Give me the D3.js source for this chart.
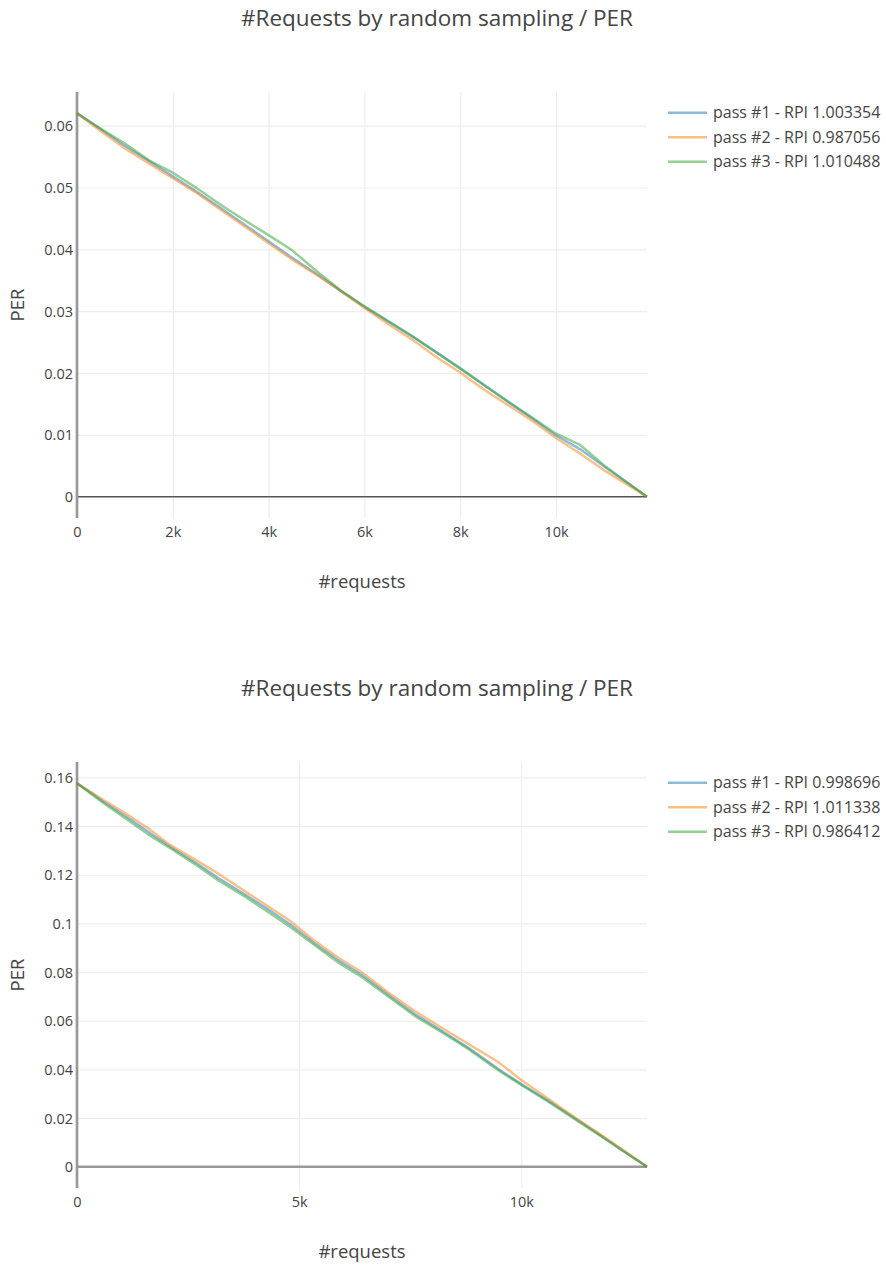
<!DOCTYPE html>
<html>
<head>
<meta charset="utf-8">
<script src="https://cdn.jsdelivr.net/npm/d3@7"></script>
<style>
  body { margin: 0; background: #fff; }
  text { font-family: "Open Sans", verdana, arial, sans-serif; fill: #444; }
</style>
</head>
<body>
<script>

// ---- chart 1 data ----
var x1 = [0, 500, 1000, 1500, 2000, 2500, 3000, 3500, 4000, 4500, 5000, 5500, 6000,
  6500, 7000, 7500, 8000, 8500, 9000, 9500, 10000, 10500, 11000, 11500, 11900];
var pass1a = [0.0620, 0.0594, 0.0567, 0.0543, 0.0518, 0.0493, 0.0467, 0.0440, 0.0413, 0.0386, 0.0360, 0.0333, 0.0307,
  0.0283, 0.0259, 0.0233, 0.0207, 0.0180, 0.0153, 0.0127, 0.0099, 0.0077, 0.0049, 0.0022, 0];
var pass2a = [0.0620, 0.0591, 0.0563, 0.0539, 0.0515, 0.0491, 0.0464, 0.0437, 0.0410, 0.0383, 0.0359, 0.0333, 0.0305,
  0.0279, 0.0254, 0.0226, 0.0201, 0.0173, 0.0148, 0.0123, 0.0095, 0.0070, 0.0043, 0.0019, 0];
var pass3a = [0.0620, 0.0595, 0.0571, 0.0544, 0.0524, 0.0499, 0.0472, 0.0447, 0.0423, 0.0398, 0.0365, 0.0334, 0.0308,
  0.0284, 0.0260, 0.0234, 0.0208, 0.0181, 0.0154, 0.0128, 0.0102, 0.0084, 0.0051, 0.0022, 0];
var names1 = ["pass #1 - RPI 1.003354", "pass #2 - RPI 0.987056", "pass #3 - RPI 1.010488"];
var xTicks1 = [0, 2000, 4000, 6000, 8000, 10000];
var yTicks1 = [0, 0.01, 0.02, 0.03, 0.04, 0.05, 0.06];

// ---- chart 2 data ----
var x2 = [0, 600, 1200, 1600, 2100, 2700, 3200, 3800, 4300, 4800, 5300, 5900, 6400,
  7000, 7600, 8200, 8800, 9500, 10000, 10600, 11200, 11800, 12300, 12830];
var pass1b = [0.1576, 0.1500, 0.1428, 0.1377, 0.1315, 0.1246, 0.1185, 0.1117, 0.1058, 0.0996, 0.0925, 0.0846, 0.0790,
  0.0708, 0.0628, 0.0560, 0.0490, 0.0400, 0.0340, 0.0272, 0.0200, 0.0127, 0.0065, 0];
var pass2b = [0.1576, 0.1507, 0.1440, 0.1391, 0.1322, 0.1258, 0.1202, 0.1130, 0.1071, 0.1010, 0.0935, 0.0857, 0.0801,
  0.0717, 0.0640, 0.0572, 0.0505, 0.0428, 0.0356, 0.0280, 0.0203, 0.0130, 0.0068, 0];
var pass3b = [0.1576, 0.1494, 0.1418, 0.1366, 0.1309, 0.1238, 0.1174, 0.1108, 0.1047, 0.0985, 0.0917, 0.0836, 0.0781,
  0.0700, 0.0620, 0.0554, 0.0485, 0.0394, 0.0336, 0.0268, 0.0196, 0.0124, 0.0063, 0];
var names2 = ["pass #1 - RPI 0.998696", "pass #2 - RPI 1.011338", "pass #3 - RPI 0.986412"];
var xTicks2 = [0, 5000, 10000];
var yTicks2 = [0, 0.02, 0.04, 0.06, 0.08, 0.1, 0.12, 0.14, 0.16];

var colors = ["#1f77b4", "#ff7f0e", "#2ca02c"];
var title = "#Requests by random sampling / PER";

var W = 886, H = 1267;
// plot area (window.top is reserved, so prefixed names)
var pLeft = 77, pRight = 647, pTop = 92, pBottom = 518;

var svg = d3.select("body").append("svg")
  .attr("width", W)
  .attr("height", H);

drawChart(0, x1, [pass1a, pass2a, pass3a], names1, xTicks1, yTicks1, { zeroColor: "#555", zeroWidth: 1.6 });
drawChart(670, x2, [pass1b, pass2b, pass3b], names2, xTicks2, yTicks2, { zeroColor: "#999", zeroWidth: 2.6 });

function drawChart(offY, xs, series, names, xTicks, yTicks, opt) {
  var g = svg.append("g").attr("transform", "translate(0," + offY + ")");

  var ymax = d3.max(series, function (s) { return d3.max(s); });
  var pad = ymax / 18;   // plotly-like 5% autorange padding

  var x = d3.scaleLinear().domain([0, xs[xs.length - 1]]).range([pLeft, pRight]);
  var y = d3.scaleLinear().domain([-pad, ymax + pad]).range([pBottom, pTop]);

  // title
  g.append("text")
    .attr("x", 437)
    .attr("y", 18)
    .attr("dy", "0.35em")
    .attr("text-anchor", "middle")
    .style("font-size", "22.5px")
    .text(title);

  // grid
  var xGrid = d3.axisBottom(x).tickValues(xTicks.filter(function (d) { return d !== 0; }))
    .tickSize(-(pBottom - pTop)).tickFormat("");
  g.append("g").attr("transform", "translate(0," + pBottom + ")").call(xGrid)
    .call(function (a) { a.select(".domain").remove(); })
    .selectAll("line").attr("stroke", "#eee").attr("stroke-width", 1.2);

  var yGrid = d3.axisLeft(y).tickValues(yTicks.filter(function (d) { return d !== 0; }))
    .tickSize(-(pRight - pLeft)).tickFormat("");
  g.append("g").attr("transform", "translate(" + pLeft + ",0)").call(yGrid)
    .call(function (a) { a.select(".domain").remove(); })
    .selectAll("line").attr("stroke", "#eee").attr("stroke-width", 1.2);

  // tick labels
  var xAxis = d3.axisBottom(x).tickValues(xTicks).tickSize(0).tickPadding(0)
    .tickFormat(function (d) { return d === 0 ? "0" : (d / 1000) + "k"; });
  var xa = g.append("g").attr("transform", "translate(0," + pBottom + ")").call(xAxis);
  xa.select(".domain").remove();
  xa.selectAll("text").attr("y", 13.7).attr("dy", "0.35em")
    .style("font-size", "14.5px").attr("fill", "#444");

  var yAxis = d3.axisLeft(y).tickValues(yTicks).tickSize(0).tickPadding(0)
    .tickFormat(function (d) { return d === 0 ? "0" : String(+d.toFixed(2)); });
  var ya = g.append("g").attr("transform", "translate(" + pLeft + ",0)").call(yAxis);
  ya.select(".domain").remove();
  ya.selectAll("text").attr("x", -4).attr("dy", "0.35em")
    .style("font-size", "14.5px").attr("fill", "#444");

  // zero lines
  g.append("line")
    .attr("x1", pLeft).attr("x2", pRight)
    .attr("y1", y(0)).attr("y2", y(0))
    .attr("stroke", opt.zeroColor).attr("stroke-width", opt.zeroWidth);
  g.append("line")
    .attr("x1", x(0)).attr("x2", x(0))
    .attr("y1", pTop).attr("y2", pBottom)
    .attr("stroke", "#999").attr("stroke-width", 2.7);

  // series
  var line = d3.line()
    .x(function (d, i) { return x(xs[i]); })
    .y(function (d) { return y(d); });

  series.forEach(function (s, i) {
    g.append("path")
      .datum(s)
      .attr("d", line)
      .attr("fill", "none")
      .attr("stroke", colors[i])
      .attr("stroke-width", 2.4)
      .attr("stroke-linejoin", "round")
      .attr("opacity", 0.5);
  });

  // legend
  var lg = g.append("g");
  names.forEach(function (n, i) {
    var ly = pTop + 20.7 + i * 24.5;
    lg.append("line")
      .attr("x1", 668).attr("x2", 707)
      .attr("y1", ly).attr("y2", ly)
      .attr("stroke", colors[i]).attr("stroke-width", 2.4).attr("opacity", 0.5);
    lg.append("text")
      .attr("x", 713).attr("y", ly).attr("dy", "0.35em")
      .style("font-size", "16px")
      .text(n);
  });

  // axis titles
  g.append("text")
    .attr("x", (pLeft + pRight) / 2)
    .attr("y", 582)
    .attr("dy", "0.35em")
    .attr("text-anchor", "middle")
    .style("font-size", "18.5px")
    .text("#requests");

  g.append("text")
    .attr("transform", "translate(18," + ((pTop + pBottom) / 2) + ") rotate(-90)")
    .attr("dy", "0.35em")
    .attr("text-anchor", "middle")
    .style("font-size", "18.5px")
    .text("PER");
}
</script>
</body>
</html>
